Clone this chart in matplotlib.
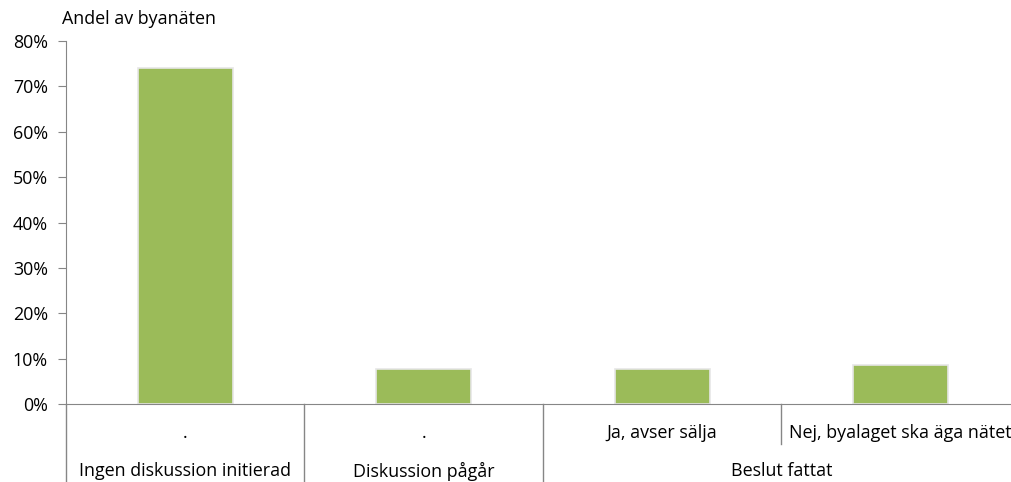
import matplotlib.pyplot as plt
from matplotlib.ticker import PercentFormatter

plt.rcParams['font.family'] = ['Open Sans', 'DejaVu Sans']

groups = ['Ingen diskussion initierad', 'Diskussion pågår', 'Beslut fattat']
sub_labels = ['.', '.', 'Ja, avser sälja', 'Nej, byalaget ska äga nätet']
group_of_bar = [0, 1, 2, 2]
shares = [0.74, 0.077, 0.077, 0.087]

W, H = 1012, 482
fs = 12.9
fig = plt.figure(figsize=(W / 100, H / 100), dpi=100)
# axes spans from x=66 to ~1020 px (cut by figure edge), y=41..404 px
ax = fig.add_axes([66 / W, (H - 404) / H, 954 / W, 363 / H])

x = list(range(len(shares)))
ax.bar(x, shares, width=0.4, color='#9BBB59', edgecolor='#e6e6e6', linewidth=1.2, zorder=2)

ax.set_ylim(0, 0.8)
ax.set_xlim(-0.5, len(shares) - 0.5)
ax.yaxis.set_major_formatter(PercentFormatter(1.0, decimals=0))
ax.set_yticks([i / 10 for i in range(9)])
ax.tick_params(axis='y', length=6, color='#868686', labelsize=fs, pad=7)
ax.set_xticks([])
for s in ['top', 'right']:
    ax.spines[s].set_visible(False)
for s in ['left', 'bottom']:
    ax.spines[s].set_color('#868686')

tr = ax.get_xaxis_transform()
axh = 363.0
row1 = -(433 - 404) / axh
row2 = -(471 - 404) / axh
full = -(482 - 404) / axh
half = -(444 - 404) / axh

for xi, lab in zip(x, sub_labels):
    ax.text(xi, row1, lab, transform=tr, ha='center', va='center', fontsize=fs)

# group labels centred over their bars
for g, name in enumerate(groups):
    members = [xi for xi, gg in zip(x, group_of_bar) if gg == g]
    cx = (members[0] + members[-1]) / 2
    ax.text(cx, row2, name, transform=tr, ha='center', va='center', fontsize=fs)

# separator lines below axis
bounds = [-0.5]
for i in range(1, len(x)):
    if group_of_bar[i] != group_of_bar[i - 1]:
        bounds.append(i - 0.5)
for b in bounds:
    ax.plot([b, b], [0, full], transform=tr, color='#868686', lw=1, clip_on=False)
for i in range(1, len(x)):
    if group_of_bar[i] == group_of_bar[i - 1]:
        ax.plot([i - 0.5, i - 0.5], [0, half], transform=tr, color='#868686', lw=1, clip_on=False)

fig.text(62 / W, 1 - 19 / H, 'Andel av byanäten', ha='left', va='center', fontsize=fs)

fig.savefig('out.png', dpi=100)
